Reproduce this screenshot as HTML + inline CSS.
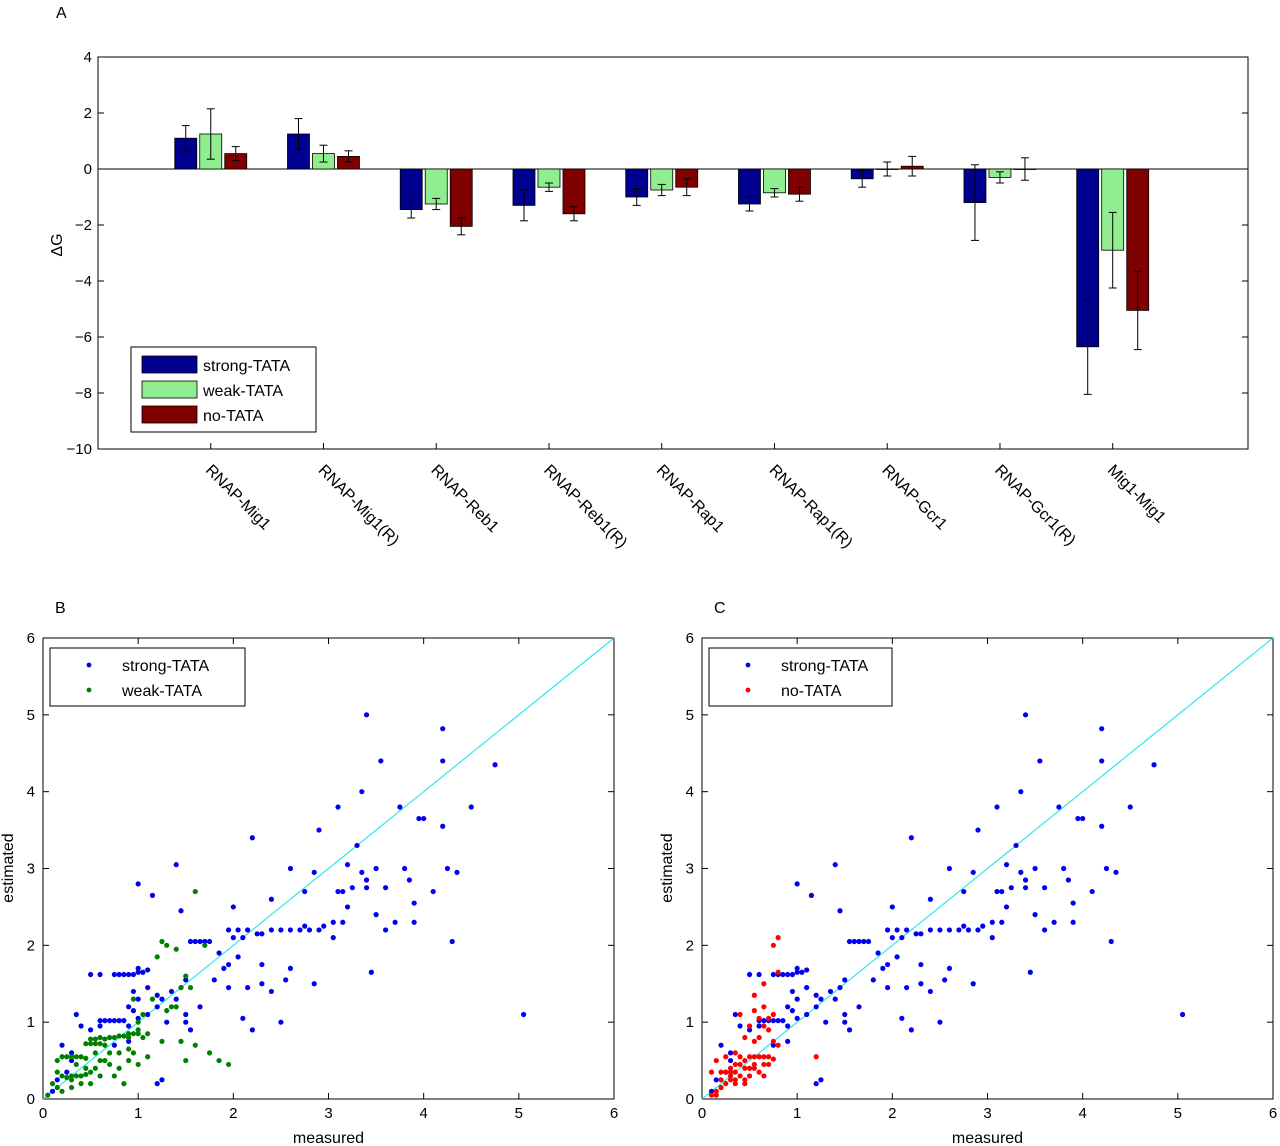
<!DOCTYPE html>
<html><head><meta charset="utf-8"><style>
body{margin:0;background:#fff;}
svg{display:block;font-family:"Liberation Sans",sans-serif;}
</style></head><body>
<svg id="s" width="1280" height="1146" viewBox="0 0 1280 1146"></svg>
<script>
const categories=["RNAP-Mig1","RNAP-Mig1(R)","RNAP-Reb1","RNAP-Reb1(R)","RNAP-Rap1","RNAP-Rap1(R)","RNAP-Gcr1","RNAP-Gcr1(R)","Mig1-Mig1"];
const strongVals=[1.1,1.25,-1.45,-1.3,-1.0,-1.25,-0.35,-1.2,-6.35];
const strongErr=[0.45,0.55,0.3,0.55,0.3,0.25,0.3,1.35,1.7];
const weakVals=[1.25,0.55,-1.25,-0.65,-0.75,-0.85,0,-0.3,-2.9];
const weakErr=[0.9,0.3,0.2,0.15,0.2,0.15,0.25,0.2,1.35];
const noVals=[0.55,0.45,-2.05,-1.6,-0.65,-0.9,0.1,0,-5.05];
const noErr=[0.25,0.2,0.3,0.25,0.3,0.25,0.35,0.4,1.4];
const yTicksA=[4,2,0,-2,-4,-6,-8,-10];
const ticksBC=[0,1,2,3,4,5,6];
const strongPts=[[3.4,5.0],[4.2,4.82],[4.2,4.4],[3.55,4.4],[4.75,4.35],[3.1,3.8],[3.75,3.8],[4.5,3.8],[3.35,4.0],[3.95,3.65],[4.0,3.65],[4.2,3.55],[2.9,3.5],[3.3,3.3],[3.2,3.05],[3.5,3.0],[4.25,3.0],[4.35,2.95],[3.35,2.95],[3.4,2.85],[3.6,2.75],[3.25,2.75],[3.1,2.7],[3.15,2.7],[3.4,2.75],[3.8,3.0],[4.1,2.7],[3.85,2.85],[3.9,2.55],[3.2,2.5],[3.5,2.4],[3.7,2.3],[3.6,2.2],[3.9,2.3],[4.3,2.05],[3.05,2.1],[3.45,1.65],[5.05,1.1],[2.2,3.4],[1.4,3.05],[1.0,2.8],[1.15,2.65],[1.45,2.45],[2.6,3.0],[2.85,2.95],[2.75,2.7],[2.4,2.6],[2.0,2.5],[2.4,2.2],[2.5,2.2],[2.6,2.2],[2.7,2.2],[2.8,2.2],[2.9,2.2],[2.95,2.25],[3.05,2.3],[3.15,2.3],[2.75,2.25],[1.95,2.2],[2.05,2.2],[2.15,2.2],[2.25,2.15],[2.3,2.15],[2.1,2.1],[2.0,2.1],[1.55,2.05],[1.6,2.05],[1.65,2.05],[1.7,2.05],[1.75,2.05],[1.85,1.9],[2.05,1.85],[1.95,1.75],[2.3,1.75],[1.8,1.55],[1.9,1.7],[2.6,1.7],[1.95,1.45],[2.15,1.45],[2.4,1.4],[2.55,1.55],[2.85,1.5],[2.3,1.5],[2.1,1.05],[2.2,0.9],[2.5,1.0],[1.5,1.55],[1.45,1.45],[1.4,1.3],[1.65,1.2],[1.5,1.1],[1.35,1.4],[1.25,1.3],[1.2,1.2],[1.55,0.9],[1.5,1.0],[0.75,1.62],[0.8,1.62],[0.85,1.62],[0.9,1.62],[0.95,1.62],[1.0,1.65],[1.05,1.65],[1.1,1.68],[1.0,1.7],[0.5,1.62],[0.6,1.62],[0.95,1.4],[1.1,1.45],[1.0,1.3],[1.2,1.35],[0.9,1.2],[0.95,1.15],[1.1,1.1],[1.0,1.05],[1.3,1.0],[0.6,1.02],[0.65,1.02],[0.7,1.02],[0.75,1.02],[0.8,1.02],[0.85,1.02],[0.9,0.95],[0.6,0.95],[0.4,0.95],[0.5,0.9],[0.35,1.1],[0.2,0.7],[0.3,0.5],[0.25,0.35],[0.15,0.25],[0.75,0.7],[0.9,0.75],[1.25,0.25],[1.2,0.2],[0.1,0.1],[0.3,0.6]];
const weakPts=[[1.6,2.7],[1.25,2.05],[1.3,2.0],[1.2,1.85],[1.4,1.95],[1.15,1.3],[0.95,1.3],[1.35,1.2],[1.4,1.2],[1.5,1.6],[1.7,2.0],[1.45,1.45],[1.55,1.45],[1.3,1.15],[1.0,1.0],[1.1,0.85],[1.05,1.1],[1.0,0.9],[0.9,0.85],[1.25,0.75],[1.45,0.75],[1.6,0.7],[1.75,0.6],[1.85,0.5],[1.95,0.45],[1.5,0.5],[1.1,0.55],[1.0,0.45],[0.9,0.5],[0.8,0.4],[0.7,0.45],[0.6,0.3],[0.85,0.2],[0.5,0.2],[0.3,0.15],[0.5,0.78],[0.55,0.78],[0.6,0.8],[0.65,0.78],[0.7,0.8],[0.75,0.8],[0.8,0.82],[0.85,0.82],[0.9,0.8],[0.95,0.85],[1.0,0.85],[1.05,0.8],[0.45,0.72],[0.5,0.72],[0.55,0.72],[0.6,0.72],[0.65,0.7],[0.2,0.55],[0.25,0.55],[0.3,0.55],[0.35,0.55],[0.4,0.55],[0.45,0.53],[0.15,0.5],[0.3,0.3],[0.35,0.3],[0.4,0.3],[0.45,0.32],[0.5,0.35],[0.25,0.28],[0.1,0.2],[0.15,0.15],[0.2,0.1],[0.05,0.05],[0.2,0.3],[0.35,0.45],[0.55,0.6],[0.7,0.6],[0.6,0.5],[0.8,0.6],[0.9,0.65],[0.75,0.3],[0.55,0.4],[0.45,0.4],[0.65,0.5],[0.4,0.2],[0.95,0.6],[0.3,0.25],[0.15,0.35]];
const noPts=[[0.8,2.1],[0.75,2.0],[0.8,1.65],[0.65,1.5],[0.55,1.35],[0.4,1.1],[0.55,1.15],[0.65,1.2],[0.7,1.05],[0.75,1.1],[0.6,1.05],[0.5,0.95],[0.65,0.95],[0.7,0.9],[0.75,0.75],[0.8,0.7],[0.6,0.8],[0.55,0.75],[0.45,0.8],[0.35,0.6],[0.25,0.55],[0.15,0.5],[0.1,0.35],[0.4,0.55],[0.5,0.55],[0.55,0.55],[0.6,0.55],[0.65,0.55],[0.7,0.55],[0.75,0.52],[0.45,0.5],[0.35,0.45],[0.3,0.4],[0.25,0.35],[0.2,0.35],[0.3,0.3],[0.35,0.35],[0.45,0.4],[0.55,0.4],[0.5,0.3],[0.6,0.35],[0.65,0.3],[0.4,0.3],[0.3,0.25],[0.25,0.2],[0.2,0.15],[0.15,0.1],[0.1,0.05],[0.15,0.05],[0.35,0.25],[0.45,0.25],[0.5,0.4],[0.2,0.25],[0.4,0.45],[0.55,0.45],[0.65,0.45],[0.7,0.45],[1.2,0.55],[0.3,0.35],[0.35,0.2],[0.45,0.2]];

const S=document.getElementById('s');
const NS='http://www.w3.org/2000/svg';
function mk(tag,at,txt){const e=document.createElementNS(NS,tag);for(const k in at)e.setAttribute(k,at[k]);if(txt!==undefined)e.textContent=txt;S.appendChild(e);return e;}

const ax0=98,ax1=1248,ay0=57,ay1=449;
const xA=v=>ax0+(v/10.2)*(ax1-ax0);
const yA=v=>ay0+(4-v)/14*(ay1-ay0);
let e=mk('rect',{x:ax0,y:ay0,width:ax1-ax0,height:ay1-ay0,fill:'none',stroke:'#000','stroke-width':1});


e=mk('text',{x:56,y:18,'font-size':16},'A');


yTicksA.forEach(t=>{
  mk('line',{x1:ax0,x2:ax0+6,y1:yA(t),y2:yA(t),stroke:'#000'});
  mk('line',{x1:ax1,x2:ax1-6,y1:yA(t),y2:yA(t),stroke:'#000'});
  e=mk('text',{x:ax0-6,y:yA(t)+5,'font-size':15,'text-anchor':'end'},String(t).replace('-','\u2212'));
  
  
});
e=mk('text',{x:62,y:245,'font-size':16,'text-anchor':'middle',transform:'rotate(-90 62 245)'},'\u0394G');


mk('line',{x1:ax0,x2:ax1,y1:yA(0),y2:yA(0),stroke:'#000'});
const series=[[strongVals,strongErr,'#00008f',-25],[weakVals,weakErr,'#90ee90',0],[noVals,noErr,'#800000',25]];
categories.forEach((c,i)=>{
  const cx=xA(i+1);
  mk('line',{x1:cx,x2:cx,y1:ay1,y2:ay1-6,stroke:'#000'});
  series.forEach((s,k)=>{
    const v=s[0][i],er=s[1][i],bx=cx+s[3]-11;
    const y0=yA(0),yv=yA(v);
    e=mk('rect',{x:bx,y:Math.min(y0,yv),width:22,height:Math.max(Math.abs(yv-y0),0.5),fill:s[2],stroke:'#000','stroke-width':0.8});
    
    
    const yt=yA(v+er),yb=yA(v-er),mx=cx+s[3];
    mk('line',{x1:mx,x2:mx,y1:yt,y2:yb,stroke:'#000'});
    mk('line',{x1:mx-4,x2:mx+4,y1:yt,y2:yt,stroke:'#000'});
    mk('line',{x1:mx-4,x2:mx+4,y1:yb,y2:yb,stroke:'#000'});
  });
  e=mk('text',{x:cx-6,y:471,'font-size':16,transform:'rotate(45 '+(cx-6)+' 471)'},c);
  
  
});
e=mk('rect',{x:131,y:347,width:185,height:85,fill:'#fff',stroke:'#000'});


[['strong-TATA','#00008f'],['weak-TATA','#90ee90'],['no-TATA','#800000']].forEach((l,i)=>{
  const y=356+i*25;
  mk('rect',{x:142,y:y,width:55,height:17,fill:l[1],stroke:'#000','stroke-width':0.8});
  e=mk('text',{x:203,y:y+15,'font-size':16},l[0]);
  
  
});

function scatter(x0,label,sets,legend){
  const x1=x0+571,y0=638,y1=1099;
  const X=v=>x0+v/6*(x1-x0), Y=v=>y1-v/6*(y1-y0);
  e=mk('rect',{x:x0,y:y0,width:x1-x0,height:y1-y0,fill:'none',stroke:'#000'});
  
  
  e=mk('text',{x:x0+12,y:613,'font-size':16},label);
  
  
  ticksBC.forEach(t=>{
    mk('line',{x1:X(t),x2:X(t),y1:y1,y2:y1-6,stroke:'#000'});
    mk('line',{x1:X(t),x2:X(t),y1:y0,y2:y0+6,stroke:'#000'});
    mk('line',{x1:x0,x2:x0+6,y1:Y(t),y2:Y(t),stroke:'#000'});
    mk('line',{x1:x1,x2:x1-6,y1:Y(t),y2:Y(t),stroke:'#000'});
    e=mk('text',{x:X(t),y:y1+19,'font-size':15,'text-anchor':'middle'},t);
    
    
    e=mk('text',{x:x0-8,y:Y(t)+5,'font-size':15,'text-anchor':'end'},t);
    
    
  });
  e=mk('text',{x:(x0+x1)/2,y:1143,'font-size':16,'text-anchor':'middle'},'measured');
  
  
  const tx=x0-30;
  e=mk('text',{x:tx,y:868,'font-size':16,'text-anchor':'middle',transform:'rotate(-90 '+tx+' 868)'},'estimated');
  
  
  e=mk('line',{x1:X(0),y1:Y(0),x2:X(6),y2:Y(6),stroke:'#33e5ee','stroke-width':1.2});
  
  
  sets.forEach(s=>{
    s[0].forEach(p=>{
      e=mk('circle',{cx:X(p[0]),cy:Y(p[1]),r:2.6,fill:s[1]});
      
      
    });
  });
  e=mk('rect',{x:x0+7,y:648,width:legend.w,height:58,fill:'#fff',stroke:'#000'});
  
  
  sets.forEach((s,i)=>{
    const y=665+i*25;
    mk('circle',{cx:x0+46,cy:y,r:2.4,fill:s[1]});
    e=mk('text',{x:x0+79,y:y+6,'font-size':16},s[2]);
    
    
  });
}
scatter(43,'B',[[strongPts,'#0000ee','strong-TATA'],[weakPts,'#008000','weak-TATA']],{w:195});
scatter(702,'C',[[strongPts,'#0000ee','strong-TATA'],[noPts,'#ff0000','no-TATA']],{w:183});
</script>
</body></html>
